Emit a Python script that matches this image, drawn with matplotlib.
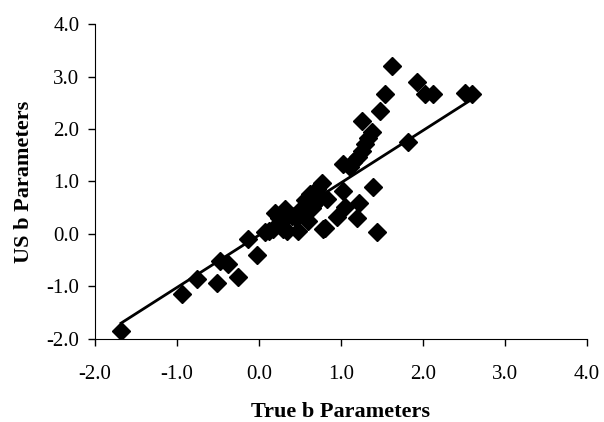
import matplotlib
matplotlib.use('Agg')
import matplotlib.pyplot as plt

# True b vs estimated (US) b.
true_b = [-1.68, -0.94, -0.76, -0.51, -0.48, -0.38, -0.26, -0.13, -0.02,
          0.07, 0.12, 0.17, 0.20, 0.24, 0.26, 0.29, 0.32, 0.34, 0.40, 0.45,
          0.48, 0.50, 0.55, 0.56, 0.60, 0.62, 0.65, 0.66, 0.70, 0.71, 0.77,
          0.78, 0.80, 0.83, 0.95, 1.02, 1.05, 1.19, 1.22, 1.39, 1.44,
          1.02, 1.11, 1.15, 1.21, 1.26, 1.29, 1.33, 1.38, 1.26, 1.48, 1.54,
          1.62, 1.82, 1.93, 2.02, 2.12, 2.51, 2.60]
us_b = [-1.85, -1.15, -0.86, -0.94, -0.52, -0.58, -0.82, -0.10, -0.40,
        0.03, 0.05, 0.10, 0.40, 0.30, 0.20, 0.10, 0.48, 0.06, 0.35, 0.30,
        0.05, 0.45, 0.40, 0.65, 0.24, 0.76, 0.50, 0.55, 0.60, 0.86, 0.98,
        0.10, 0.12, 0.66, 0.33, 0.82, 0.52, 0.30, 0.58, 0.90, 0.03,
        1.33, 1.27, 1.38, 1.46, 1.58, 1.71, 1.82, 1.95, 2.15, 2.34, 2.67,
        3.20, 1.75, 2.90, 2.67, 2.67, 2.68, 2.67]

# Fitted line endpoints.
fit_x = [-1.68, 2.58]
fit_y = [-1.70, 2.55]

tick_vals = [-2, -1, 0, 1, 2, 3, 4]
tick_labels = ['-2.0', '-1.0', '0.0', '1.0', '2.0', '3.0', '4.0']

plt.rcParams['font.family'] = 'Liberation Serif'

fig, ax = plt.subplots(figsize=(6.04, 4.22), dpi=100)
fig.subplots_adjust(left=0.157, right=0.972, bottom=0.197, top=0.943)

ax.plot(fit_x, fit_y, color='black', linewidth=2, zorder=2)
ax.plot(true_b, us_b, linestyle='none', marker='D', markersize=9,
        color='black', zorder=3)

ax.set_xlim(-2, 4)
ax.set_ylim(-2, 4)
ax.set_xticks(tick_vals)
ax.set_yticks(tick_vals)
ax.set_xticklabels(tick_labels)
ax.set_yticklabels(tick_labels)
ax.tick_params(labelsize=15, length=5, width=1, direction='out')
ax.tick_params(axis='x', pad=14)
ax.tick_params(axis='y', pad=6)

ax.spines['top'].set_visible(False)
ax.spines['right'].set_visible(False)

ax.set_xlabel('True b Parameters', fontsize=16, fontweight='bold', labelpad=13)
ax.set_ylabel('US b Parameters', fontsize=16, fontweight='bold', labelpad=9)

plt.savefig('out.png', dpi=100)
